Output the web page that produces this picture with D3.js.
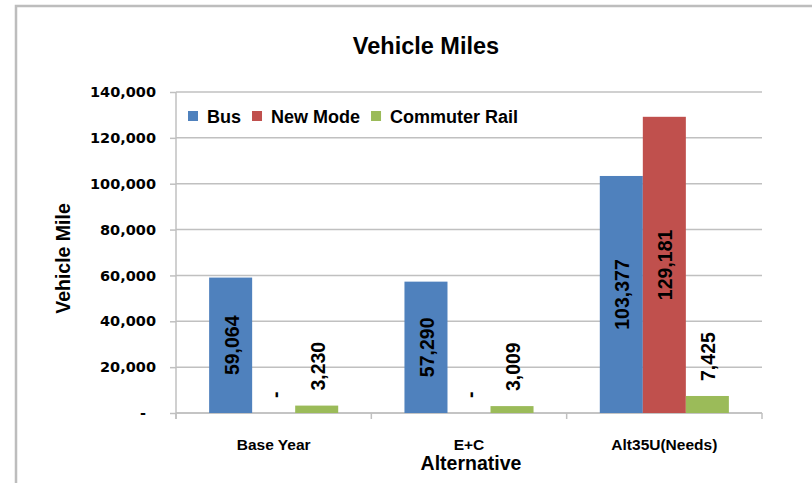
<!DOCTYPE html>
<html>
<head>
<meta charset="utf-8">
<script src="https://cdn.jsdelivr.net/npm/d3@7"></script>
<style>
  html, body { margin: 0; padding: 0; background: #fff; }
  svg { display: block; }
  text { font-family: "DejaVu Sans", sans-serif; fill: #000; }
</style>
</head>
<body>
<svg id="chart" width="812" height="483"></svg>
<script>
const categories = ["Base Year", "E+C", "Alt35U(Needs)"];
const seriesNames = ["Bus", "New Mode", "Commuter Rail"];
const busValues = [59064, 57290, 103377];
const newModeValues = [0, 0, 129181];
const railValues = [3230, 3009, 7425];
const seriesColors = ["#4f81bd", "#c0504d", "#9bbb59"];
const yTickValues = [0, 20000, 40000, 60000, 80000, 100000, 120000, 140000];
const yTickLabels = ["-", "20,000", "40,000", "60,000", "80,000", "100,000", "120,000", "140,000"];
const chartTitle = "Vehicle Miles";
const yTitle = "Vehicle Mile";
const xTitle = "Alternative";

const seriesValues = [busValues, newModeValues, railValues];

const svg = d3.select("#chart");
const W = 812, H = 483;
const pLeft = 176, pRight = 762, pTop = 92, pBottom = 413;
const LIB = "'Liberation Sans', Arial, sans-serif";
const DJV = "'DejaVu Sans', sans-serif";

// outer frame
svg.append("rect")
  .attr("x", 16).attr("y", 6)
  .attr("width", W + 40).attr("height", H + 40)
  .attr("fill", "#fff")
  .attr("stroke", "#bdbdbd").attr("stroke-width", 2.5);

const x0 = d3.scaleBand().domain(categories).range([pLeft, pRight]).paddingInner(0).paddingOuter(0);
const x1 = d3.scaleBand().domain(seriesNames).range([0, x0.bandwidth()]).paddingInner(0).paddingOuter(0.77);
const y = d3.scaleLinear().domain([0, 140000]).range([pBottom, pTop]);

// gridlines
svg.append("g").selectAll("line").data(yTickValues).join("line")
  .attr("x1", pLeft).attr("x2", pRight)
  .attr("y1", d => y(d)).attr("y2", d => y(d))
  .attr("stroke", "#c0c0c0").attr("stroke-width", 1.5);

// y axis
const yAxis = d3.axisLeft(y).tickValues(yTickValues)
  .tickFormat((d, i) => yTickLabels[i]).tickSize(6).tickPadding(14);
const gy = svg.append("g").attr("transform", `translate(${pLeft},0)`).call(yAxis);
gy.select(".domain").attr("stroke", "#c0c0c0").attr("stroke-width", 1.5)
  .attr("d", `M0,${pTop}V${pBottom + 6}`);
gy.selectAll(".tick line").attr("stroke", "#c0c0c0").attr("stroke-width", 1.5);
gy.selectAll(".tick text")
  .style("font-family", DJV).style("font-weight", "bold").style("font-size", "14.5px")
  .attr("fill", "#000")
  .attr("dx", (d, i) => yTickLabels[i] === "-" ? -10 : 0);

// x axis baseline + boundary ticks
svg.append("line").attr("x1", pLeft).attr("x2", pRight).attr("y1", pBottom).attr("y2", pBottom)
  .attr("stroke", "#c0c0c0").attr("stroke-width", 1.5);
const boundaries = categories.map(c => x0(c)).concat([x0(categories[categories.length - 1]) + x0.bandwidth()]);
svg.append("g").selectAll("line").data(boundaries).join("line")
  .attr("x1", d => d).attr("x2", d => d)
  .attr("y1", pBottom).attr("y2", pBottom + 6)
  .attr("stroke", "#c0c0c0").attr("stroke-width", 1.5);

// category labels
const xAxis = d3.axisBottom(x0).tickSize(0).tickPadding(26);
const gx = svg.append("g").attr("transform", `translate(0,${pBottom})`).call(xAxis);
gx.select(".domain").remove();
gx.selectAll(".tick text")
  .style("font-family", LIB).style("font-weight", "bold").style("font-size", "15.5px")
  .attr("fill", "#000");

// bars
const fmt = v => v === 0 ? "-" : d3.format(",")(v);
const barData = [];
categories.forEach((c, ci) => {
  seriesNames.forEach((s, si) => {
    barData.push({ cat: c, series: s, si: si, value: seriesValues[si][ci] });
  });
});

svg.append("g").selectAll("rect").data(barData).join("rect")
  .attr("x", d => x0(d.cat) + x1(d.series))
  .attr("width", x1.bandwidth())
  .attr("y", d => y(d.value))
  .attr("height", d => pBottom - y(d.value))
  .attr("fill", d => seriesColors[d.si]);

// data labels (rotated)
const labels = svg.append("g");
barData.forEach(d => {
  const cx = x0(d.cat) + x1(d.series) + x1.bandwidth() / 2;
  const h = pBottom - y(d.value);
  const t = labels.append("text")
    .style("font-family", LIB).style("font-weight", "bold").style("font-size", "19.5px")
    .attr("dominant-baseline", "central")
    .text(fmt(d.value));
  if (h > 80) {
    const cy = y(d.value / 2);
    t.attr("text-anchor", "middle")
      .attr("transform", `translate(${cx + 1},${cy}) rotate(-90)`);
  } else {
    const cy = y(d.value) - 15;
    t.attr("text-anchor", "start")
      .attr("transform", `translate(${cx + 1},${cy}) rotate(-90)`);
  }
});

// title
svg.append("text").attr("x", 426).attr("y", 46)
  .attr("text-anchor", "middle").attr("dominant-baseline", "central")
  .style("font-family", LIB).style("font-weight", "bold").style("font-size", "23.5px")
  .text(chartTitle);

// y title
svg.append("text")
  .attr("transform", `translate(63,${(pTop + pBottom) / 2 + 6}) rotate(-90)`)
  .attr("text-anchor", "middle").attr("dominant-baseline", "central")
  .style("font-family", LIB).style("font-weight", "bold").style("font-size", "19.5px")
  .text(yTitle);

// x title
svg.append("text").attr("x", (pLeft + pRight) / 2 + 2).attr("y", 463)
  .attr("text-anchor", "middle").attr("dominant-baseline", "central")
  .style("font-family", LIB).style("font-weight", "bold").style("font-size", "19.5px")
  .text(xTitle);

// legend
const legend = svg.append("g");
let lx = 188;
seriesNames.forEach((s, i) => {
  legend.append("rect").attr("x", lx).attr("y", 111).attr("width", 10).attr("height", 10)
    .attr("fill", seriesColors[i]);
  const t = legend.append("text").attr("x", lx + 19).attr("y", 116.5)
    .attr("dominant-baseline", "central")
    .style("font-family", LIB).style("font-weight", "bold").style("font-size", "18px")
    .text(s);
  lx = lx + 19 + t.node().getComputedTextLength() + 11;
});
</script>
</body>
</html>
